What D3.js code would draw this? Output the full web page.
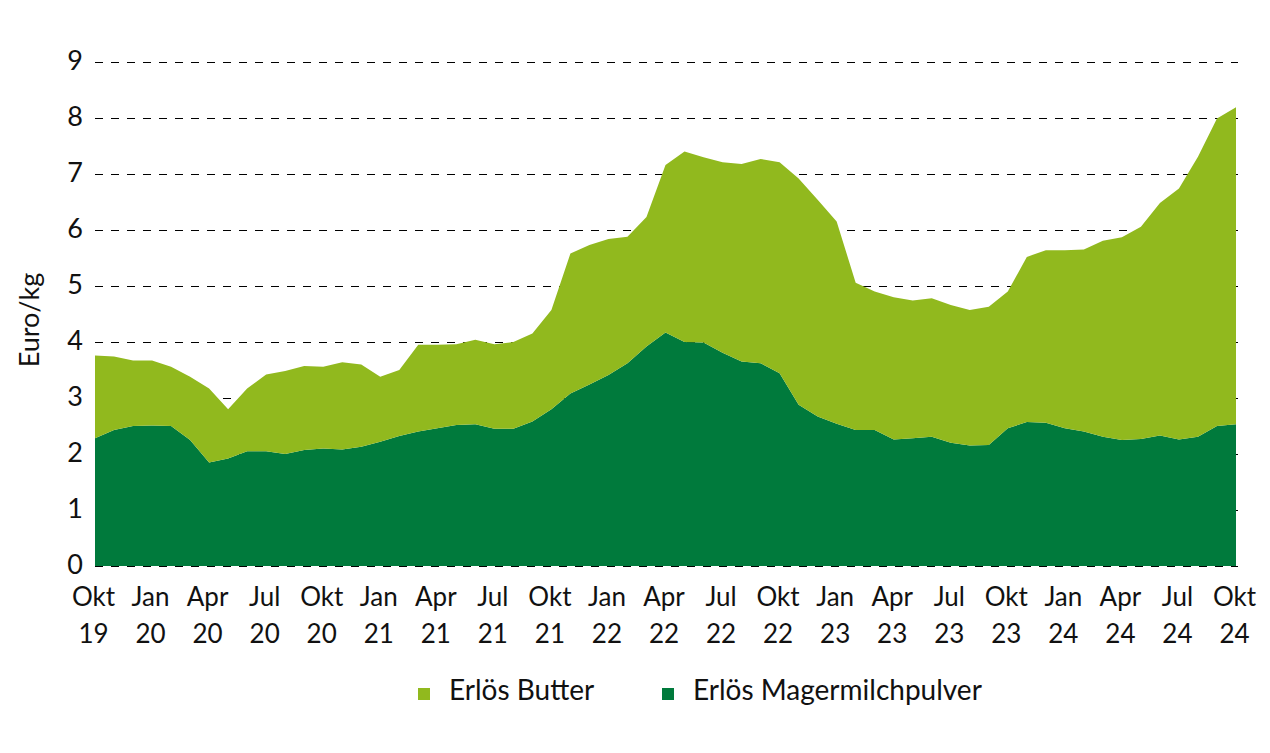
<!DOCTYPE html>
<html><head><meta charset="utf-8">
<script src="https://cdn.jsdelivr.net/npm/d3@7"></script>
<style>
body{margin:0;background:#fff;}
svg{display:block;}
text{font-family:Lato,"Open Sans",sans-serif;fill:#111;}
</style>
</head><body>
<svg id="chart" width="1270" height="753"></svg>
<script>
// Months (Okt 2019 .. Okt 2024)
const months = [
"2019-10","2019-11","2019-12",
"2020-01","2020-02","2020-03","2020-04","2020-05","2020-06","2020-07","2020-08","2020-09","2020-10","2020-11","2020-12",
"2021-01","2021-02","2021-03","2021-04","2021-05","2021-06","2021-07","2021-08","2021-09","2021-10","2021-11","2021-12",
"2022-01","2022-02","2022-03","2022-04","2022-05","2022-06","2022-07","2022-08","2022-09","2022-10","2022-11","2022-12",
"2023-01","2023-02","2023-03","2023-04","2023-05","2023-06","2023-07","2023-08","2023-09","2023-10","2023-11","2023-12",
"2024-01","2024-02","2024-03","2024-04","2024-05","2024-06","2024-07","2024-08","2024-09","2024-10"
];
// Erlös Magermilchpulver (Euro/kg)
const magermilchpulver = [
2.28,2.43,2.50,2.51,2.50,2.25,1.85,1.92,2.05,2.05,2.00,2.07,2.10,2.08,2.13,2.22,2.32,2.40,2.46,2.52,
2.53,2.45,2.45,2.58,2.80,3.08,3.24,3.41,3.62,3.92,4.17,4.00,3.99,3.81,3.65,3.62,3.44,2.88,2.67,2.54,
2.43,2.43,2.26,2.28,2.31,2.20,2.15,2.16,2.46,2.57,2.56,2.46,2.40,2.31,2.25,2.27,2.33,2.26,2.31,2.50,2.53
];
// Erlös Butter (Euro/kg), stacked on top
const butter = [
1.48,1.31,1.17,1.16,1.06,1.13,1.32,0.88,1.12,1.37,1.48,1.50,1.46,1.56,1.47,1.16,1.18,1.55,1.49,1.44,
1.51,1.51,1.55,1.57,1.77,2.50,2.49,2.43,2.26,2.31,2.99,3.40,3.31,3.40,3.53,3.65,3.77,4.04,3.87,3.61,
2.63,2.47,2.54,2.46,2.47,2.46,2.42,2.47,2.44,2.95,3.08,3.18,3.25,3.50,3.62,3.79,4.15,4.48,5.00,5.49,5.66
];
const seriesNames = ["Erlös Butter","Erlös Magermilchpulver"];
const tickMonths = ["2019-10","2020-01","2020-04","2020-07","2020-10","2021-01","2021-04","2021-07","2021-10",
"2022-01","2022-04","2022-07","2022-10","2023-01","2023-04","2023-07","2023-10","2024-01","2024-04","2024-07","2024-10"];
const tickLabels = [["Okt","19"],["Jan","20"],["Apr","20"],["Jul","20"],["Okt","20"],["Jan","21"],["Apr","21"],["Jul","21"],["Okt","21"],
["Jan","22"],["Apr","22"],["Jul","22"],["Okt","22"],["Jan","23"],["Apr","23"],["Jul","23"],["Okt","23"],["Jan","24"],["Apr","24"],["Jul","24"],["Okt","24"]];
const yTicks = [0,1,2,3,4,5,6,7,8,9];

const colButter = "#91b91e", colMMP = "#007a3c";
const svg = d3.select("#chart");
const x = d3.scalePoint().domain(months).range([95,1236]).padding(0);
const y = d3.scaleLinear().domain([0,9]).range([566,62]);

const table = months.map((m,i)=>({month:m, mmp:magermilchpulver[i], butter:butter[i]}));
const stacked = d3.stack().keys(["mmp","butter"])(table);

// gridlines
const grid = svg.append("g").attr("transform","translate(95,0)")
  .call(d3.axisLeft(y).tickValues(yTicks).tickSize(-1143).tickFormat(""));
grid.select(".domain").remove();
grid.selectAll("line").attr("stroke","#000").attr("stroke-width",1).attr("stroke-dasharray","8,8");

// areas
const area = d3.area().x(d=>x(d.data.month)).y0(d=>y(d[0])).y1(d=>y(d[1])).curve(d3.curveLinear);
svg.append("g").selectAll("path").data(stacked).join("path")
  .attr("d",area).attr("fill",(d,i)=> i===0?colMMP:colButter);

// y axis labels
const ya = svg.append("g").attr("transform","translate(95,0)")
  .call(d3.axisLeft(y).tickValues(yTicks).tickSize(0).tickPadding(12).tickFormat(d3.format("d")));
ya.select(".domain").remove();
ya.selectAll("text").attr("font-size",27).attr("font-family","Lato,sans-serif").attr("fill","#111").attr("dy","0.28em");

// x axis labels
const xa = svg.append("g").attr("transform","translate(-2,566)")
  .call(d3.axisBottom(x).tickValues(tickMonths).tickSize(0).tickPadding(0).tickFormat(""));
xa.select(".domain").remove();
xa.selectAll(".tick").each(function(d,i){
  const t = d3.select(this).append("text").attr("text-anchor","middle").attr("font-size",26)
    .attr("font-family","Lato,sans-serif").attr("fill","#111");
  t.append("tspan").attr("x",0).attr("y",40).text(tickLabels[i][0]);
  t.append("tspan").attr("x",0).attr("y",77).text(tickLabels[i][1]);
});

// y title
svg.append("text").attr("transform","translate(39,320) rotate(-90)").attr("text-anchor","middle")
  .attr("font-size",27).text("Euro/kg");

// legend
const legendX = [418, 662];
const lg = svg.append("g").selectAll("g").data(seriesNames).join("g")
  .attr("transform",(d,i)=>`translate(${legendX[i]},688)`);
lg.append("rect").attr("width",12).attr("height",12).attr("fill",(d,i)=> i===0?colButter:colMMP);
lg.append("text").attr("x",31).attr("y",12).attr("font-size",28).text(d=>d);
</script>
</body></html>
